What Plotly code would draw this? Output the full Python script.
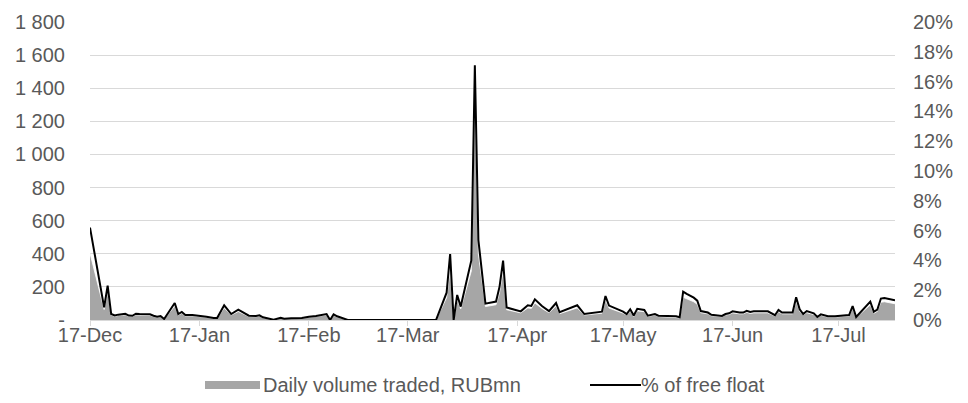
import plotly.graph_objects as go

# ---- data ----
dates = [
    "2017-12-01", "2017-12-05", "2017-12-06", "2017-12-07", "2017-12-08", "2017-12-09",
    "2017-12-11", "2017-12-12", "2017-12-13", "2017-12-14", "2017-12-15", "2017-12-17",
    "2017-12-18", "2017-12-19", "2017-12-20", "2017-12-21", "2017-12-22", "2017-12-25",
    "2017-12-26", "2017-12-27", "2017-12-28", "2017-12-30", "2018-01-01", "2018-01-02",
    "2018-01-03", "2018-01-05", "2018-01-06", "2018-01-08", "2018-01-10", "2018-01-12",
    "2018-01-13", "2018-01-15", "2018-01-17", "2018-01-18", "2018-01-19", "2018-01-22",
    "2018-01-24", "2018-01-25", "2018-01-27", "2018-01-30", "2018-02-01", "2018-02-03",
    "2018-02-06", "2018-02-07", "2018-02-08", "2018-02-09", "2018-02-12", "2018-02-19",
    "2018-02-26", "2018-03-05", "2018-03-09", "2018-03-12", "2018-03-13", "2018-03-14",
    "2018-03-15", "2018-03-16", "2018-03-19", "2018-03-20", "2018-03-21", "2018-03-23",
    "2018-03-26", "2018-03-27", "2018-03-28", "2018-03-29", "2018-03-31", "2018-04-02",
    "2018-04-04", "2018-04-05", "2018-04-06", "2018-04-08", "2018-04-10", "2018-04-12",
    "2018-04-13", "2018-04-16", "2018-04-18", "2018-04-20", "2018-04-22", "2018-04-25",
    "2018-04-26", "2018-04-27", "2018-05-01", "2018-05-02", "2018-05-03", "2018-05-04",
    "2018-05-05", "2018-05-07", "2018-05-08", "2018-05-10", "2018-05-11", "2018-05-16",
    "2018-05-17", "2018-05-18", "2018-05-19", "2018-05-21", "2018-05-22", "2018-05-23",
    "2018-05-25", "2018-05-26", "2018-05-29", "2018-05-30", "2018-05-31", "2018-06-01",
    "2018-06-03", "2018-06-04", "2018-06-05", "2018-06-06", "2018-06-07", "2018-06-11",
    "2018-06-13", "2018-06-14", "2018-06-15", "2018-06-18", "2018-06-19", "2018-06-20",
    "2018-06-21", "2018-06-22", "2018-06-24", "2018-06-25", "2018-06-26", "2018-06-28",
    "2018-06-30", "2018-07-03", "2018-07-04", "2018-07-05", "2018-07-06", "2018-07-10",
    "2018-07-11", "2018-07-12", "2018-07-13", "2018-07-14", "2018-07-17",
]

volume_rub_mn = [
    403, 63, 170, 30, 22, 27,
    31, 22, 21, 31, 30, 28,
    28, 21, 16, 20, 5, 84,
    30, 40, 25, 25, 21, 21,
    16, 10, 10, 73, 30, 51,
    41, 21, 20, 23, 13, 1,
    11, 7, 8, 10, 16, 20,
    30, 0, 28, 18, 0, 0,
    0, 0, 0, 135, 300, 0,
    124, 67, 296, 1380, 397, 81,
    92, 166, 295, 62, 51, 43,
    73, 70, 103, 70, 44, 84,
    38, 59, 73, 30, 33, 41,
    119, 72, 41, 30, 53, 22,
    55, 50, 21, 30, 21, 18,
    13, 137, 128, 110, 95, 44,
    37, 26, 20, 30, 33, 43,
    37, 37, 46, 40, 43, 43,
    24, 50, 37, 37, 112, 53,
    30, 44, 33, 15, 28, 18,
    18, 22, 24, 70, 15, 91,
    41, 52, 107, 110, 98,
]

free_float_pct = [
    6.2, 0.85, 2.3, 0.4, 0.3, 0.36,
    0.42, 0.3, 0.28, 0.42, 0.4, 0.38,
    0.38, 0.29, 0.22, 0.27, 0.07, 1.14,
    0.4, 0.54, 0.34, 0.34, 0.29, 0.29,
    0.22, 0.13, 0.13, 0.99, 0.4, 0.69,
    0.56, 0.29, 0.27, 0.31, 0.18, 0.02,
    0.15, 0.09, 0.11, 0.13, 0.22, 0.27,
    0.4, 0.0, 0.38, 0.25, 0.0, 0.0,
    0.0, 0.0, 0.0, 1.83, 4.43, 0.0,
    1.68, 0.9, 4.0, 17.1, 5.37, 1.1,
    1.24, 2.24, 3.98, 0.84, 0.69, 0.58,
    0.99, 0.94, 1.39, 0.94, 0.6, 1.14,
    0.52, 0.8, 0.99, 0.4, 0.45, 0.56,
    1.61, 0.97, 0.56, 0.4, 0.72, 0.3,
    0.75, 0.67, 0.29, 0.4, 0.29, 0.25,
    0.18, 1.9, 1.75, 1.5, 1.3, 0.6,
    0.5, 0.35, 0.27, 0.4, 0.45, 0.58,
    0.5, 0.5, 0.62, 0.54, 0.58, 0.58,
    0.32, 0.67, 0.5, 0.5, 1.52, 0.72,
    0.4, 0.6, 0.45, 0.2, 0.38, 0.25,
    0.25, 0.3, 0.33, 0.94, 0.2, 1.23,
    0.55, 0.7, 1.44, 1.48, 1.32,
]

x_tick_dates = ["2017-12-01", "2018-01-01", "2018-02-01", "2018-03-01",
                "2018-04-01", "2018-05-01", "2018-06-01", "2018-07-01"]
x_tick_labels = ["17-Dec", "17-Jan", "17-Feb", "17-Mar",
                 "17-Apr", "17-May", "17-Jun", "17-Jul"]

y_tick_vals = [0, 200, 400, 600, 800, 1000, 1200, 1400, 1600, 1800]
y_tick_labels = ["-", "200", "400", "600", "800", "1 000", "1 200", "1 400", "1 600", "1 800"]

y2_tick_vals = [0, 2, 4, 6, 8, 10, 12, 14, 16, 18, 20]
y2_tick_labels = [f"{v}%" for v in y2_tick_vals]

series_names = ["Daily volume traded, RUBmn", "% of free float"]

# ---- styling ----
FONT = "Liberation Sans, Arial, sans-serif"
FS = 20
TXT = "#595959"
GRID = "#d9d9d9"
AREA = "#a6a6a6"

fig = go.Figure()
fig.add_trace(go.Scatter(
    x=dates, y=volume_rub_mn, name=series_names[0], mode="lines",
    fill="tozeroy", fillcolor=AREA, line=dict(color="white", width=0.8),
    yaxis="y", showlegend=False,
))
fig.add_trace(go.Scatter(
    x=dates, y=free_float_pct, name=series_names[1], mode="lines",
    line=dict(color="black", width=2), yaxis="y2", showlegend=False,
))

fig.update_layout(
    width=968, height=403,
    margin=dict(l=90, r=73, t=22, b=83, autoexpand=False),
    paper_bgcolor="white", plot_bgcolor="white",
    font=dict(family=FONT, size=FS, color=TXT),
    xaxis=dict(
        type="date", range=[dates[0], dates[-1]],
        tickvals=x_tick_dates, ticktext=x_tick_labels,
        showgrid=False, showline=True, linecolor=GRID, linewidth=1,
        ticks="outside", ticklen=5, tickcolor=GRID,
        tickfont=dict(family=FONT, size=FS, color=TXT),
        ticklabelstandoff=-8,
        zeroline=False,
    ),
    yaxis=dict(
        range=[0, 1800], tickvals=y_tick_vals, ticktext=y_tick_labels,
        showgrid=True, gridcolor=GRID, gridwidth=1, zeroline=False,
        showline=False, ticks="", ticklabelstandoff=24,
        tickfont=dict(family=FONT, size=FS, color=TXT),
    ),
    yaxis2=dict(
        range=[0, 20], tickvals=y2_tick_vals, ticktext=y2_tick_labels,
        overlaying="y", side="right", showgrid=False, zeroline=False,
        showline=False, ticks="", ticklabelstandoff=17,
        tickfont=dict(family=FONT, size=FS, color=TXT),
    ),
)

# ---- custom legend (matches the reference's wide patch style) ----
H = 403 - 22 - 83
W = 968 - 90 - 73
def px_x(x):
    return (x - 90) / W
def px_y(y):
    return (403 - 83 - y) / H

legend_y = 385
fig.add_shape(type="rect", xref="paper", yref="paper",
              x0=px_x(205), x1=px_x(260), y0=px_y(389), y1=px_y(381),
              fillcolor=AREA, line=dict(width=0))
fig.add_annotation(xref="paper", yref="paper", x=px_x(261), y=px_y(legend_y),
                   text=series_names[0], showarrow=False, xanchor="left", yanchor="middle",
                   font=dict(family=FONT, size=FS, color=TXT))
fig.add_shape(type="line", xref="paper", yref="paper",
              x0=px_x(590), x1=px_x(641), y0=px_y(legend_y), y1=px_y(legend_y),
              line=dict(color="black", width=2))
fig.add_annotation(xref="paper", yref="paper", x=px_x(639), y=px_y(legend_y),
                   text=series_names[1], showarrow=False, xanchor="left", yanchor="middle",
                   font=dict(family=FONT, size=FS, color=TXT))

fig.write_html("out.html", config={"displayModeBar": False},
               post_script="document.body.style.margin='0';")
